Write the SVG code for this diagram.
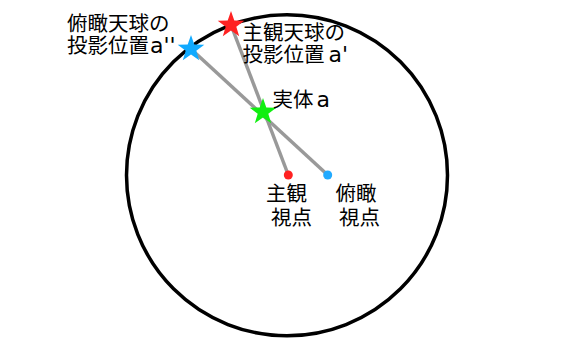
<svg xmlns="http://www.w3.org/2000/svg" width="563" height="356" viewBox="0 0 563 356">
<defs>
<style>
text{font-family:"DejaVu Sans","Noto Sans CJK JP",sans-serif;font-size:20.5px;fill:#000}
.la{font-size:22px}
.ray{stroke:#999;stroke-width:3.5;fill:none}
</style>
<path id="star" d="M0,-14 L3.3,-4.5 L13.3,-4.3 L5.3,1.7 L8.2,11.3 L0,5.6 L-8.2,11.3 L-5.3,1.7 L-13.3,-4.3 L-3.3,-4.5 Z"/>
</defs>
<rect width="563" height="356" fill="#fff"/>
<g id="sphere"><circle cx="287" cy="175.3" r="160.5" fill="none" stroke="#000" stroke-width="3.5"/></g>
<g id="connectors">
<line class="ray" x1="231" y1="25" x2="288.3" y2="175"/>
<line class="ray" x1="191" y1="49" x2="327.7" y2="175"/>
</g>
<g id="subjective-viewpoint"><circle cx="288.3" cy="175" r="4.5" fill="#f22"/>
<text x="266" y="201">主観</text><text x="271" y="225">視点</text></g>
<g id="overhead-viewpoint"><circle cx="327.7" cy="175" r="4.5" fill="#2af"/>
<text x="335.5" y="201">俯瞰</text><text x="339" y="225">視点</text></g>
<g id="entity-a"><use href="#star" x="263" y="112" fill="#1e1"/><text x="272.5" y="107">実体<tspan class="la" dx="3">a</tspan></text></g>
<g id="subjective-projection"><use href="#star" x="231" y="25" fill="#f22"/>
<text x="242.5" y="40">主観天球の</text><text x="242.5" y="62">投影位置<tspan class="la" dx="4">a'</tspan></text></g>
<g id="overhead-projection"><use href="#star" x="191" y="49" fill="#1af"/>
<text x="67" y="31">俯瞰天球の</text><text x="67" y="53">投影位置<tspan class="la" dx="1">a''</tspan></text></g>
</svg>
